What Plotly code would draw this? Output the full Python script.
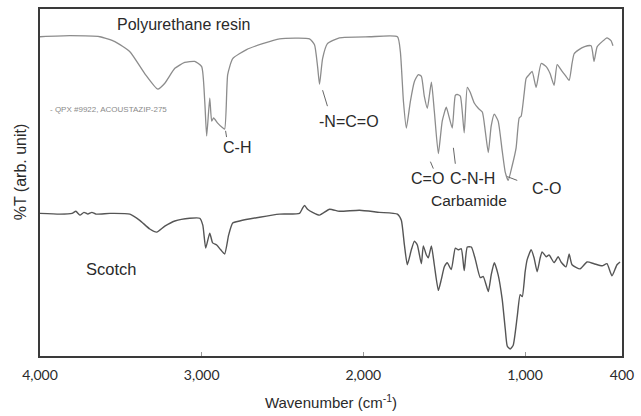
import plotly.graph_objects as go

# Polyurethane resin spectrum (wavenumber cm-1, %T arbitrary units)
pu_wn = [4000, 3815, 3630, 3537, 3444, 3352, 3271, 3228, 3166, 3105, 3043, 3000, 2981, 2969,
         2950, 2938, 2926, 2901, 2876, 2858, 2839, 2808, 2722, 2623, 2518, 2333, 2302, 2283,
         2271, 2252, 2222, 2148, 1962, 1789, 1771, 1752, 1734, 1709, 1684, 1660, 1641, 1623,
         1604, 1579, 1561, 1536, 1512, 1487, 1474, 1450, 1431, 1419, 1400, 1376, 1357, 1339,
         1314, 1289, 1264, 1246, 1227, 1209, 1190, 1166, 1141, 1122, 1104, 1079, 1055, 1036,
         1024, 1005, 993, 974, 956, 931, 900, 869, 845, 820, 801, 770, 746, 727, 709, 696,
         666, 635, 591, 573, 554, 523, 493, 468, 456]
pu_t = [92.0, 92.3, 92.0, 90.6, 87.7, 81.4, 76.9, 78.6, 82.9, 84.6, 84.9, 83.4, 73.4, 63.4,
        74.3, 67.7, 68.6, 67.1, 66.0, 65.4, 81.1, 85.7, 88.3, 90.0, 91.4, 91.4, 89.7, 83.4,
        78.3, 85.7, 90.0, 91.7, 92.0, 92.0, 87.7, 73.4, 65.7, 73.4, 79.1, 81.1, 80.6, 74.9,
        71.4, 78.9, 70.6, 58.3, 67.7, 71.7, 69.7, 65.7, 75.1, 75.4, 74.9, 64.3, 77.4, 76.0,
        72.9, 71.4, 70.3, 64.9, 58.6, 66.3, 69.7, 67.7, 59.1, 52.9, 50.6, 54.9, 60.0, 68.6,
        69.1, 75.7, 80.0, 81.1, 82.0, 77.4, 84.3, 83.4, 81.4, 78.0, 84.0, 82.0, 80.6, 79.4,
        84.3, 87.1, 88.3, 89.1, 89.4, 84.9, 89.1, 90.6, 91.7, 90.9, 89.4]

# Scotch spectrum
sc_wn = [4000, 3877, 3802, 3778, 3753, 3728, 3704, 3679, 3654, 3568, 3444, 3383, 3321, 3278,
         3228, 3166, 3074, 3012, 2993, 2975, 2950, 2932, 2907, 2882, 2858, 2833, 2808, 2765,
         2642, 2518, 2395, 2376, 2364, 2345, 2314, 2271, 2209, 2148, 2024, 1901, 1789, 1765,
         1746, 1728, 1703, 1684, 1666, 1641, 1629, 1610, 1598, 1579, 1561, 1536, 1518, 1499,
         1481, 1456, 1431, 1413, 1394, 1376, 1357, 1332, 1308, 1277, 1258, 1227, 1209, 1190,
         1166, 1141, 1122, 1110, 1092, 1073, 1048, 1030, 1017, 999, 987, 962, 944, 925, 906,
         894, 869, 851, 820, 795, 777, 746, 727, 709, 659, 616, 573, 523, 493, 462, 431, 412]
sc_t = [41.1, 40.9, 41.1, 41.7, 40.6, 41.4, 40.9, 41.4, 40.9, 41.1, 40.9, 39.1, 36.6, 35.7,
        37.4, 38.9, 39.7, 39.7, 37.7, 31.1, 35.4, 32.6, 32.0, 30.6, 29.4, 34.9, 38.3, 38.9,
        40.0, 40.9, 41.1, 42.6, 43.4, 42.3, 41.4, 40.6, 42.3, 41.7, 42.0, 41.4, 40.9, 39.1,
        32.0, 26.3, 30.6, 33.1, 32.0, 26.6, 31.7, 29.1, 28.3, 31.7, 26.3, 18.9, 22.0, 25.7,
        26.9, 24.9, 31.1, 30.6, 30.9, 24.6, 31.4, 31.4, 28.0, 22.6, 22.9, 18.6, 23.4, 26.9,
        23.4, 16.3, 7.7, 2.9, 2.0, 3.1, 11.4, 17.7, 17.1, 24.3, 27.7, 30.6, 28.3, 24.3, 28.3,
        30.0, 28.6, 29.1, 26.9, 28.6, 27.1, 25.7, 29.4, 26.3, 25.1, 27.1, 26.6, 26.0, 26.6,
        23.1, 26.3, 27.1]

tick_vals = [4000, 3000, 2000, 1000, 400]
tick_text = ["4,000", "3,000", "2,000", "1,000", "400"]

FONT = "Liberation Sans, Arial, sans-serif"
AXFONT = "Lato, Liberation Sans, sans-serif"
TXT = "#2a2a2a"

fig = go.Figure()
fig.add_trace(go.Scatter(x=pu_wn, y=pu_t, mode="lines",
                         line=dict(color="#8c8c8c", width=1.3, shape="spline", smoothing=0.5),
                         showlegend=False, hoverinfo="skip"))
fig.add_trace(go.Scatter(x=sc_wn, y=sc_t, mode="lines",
                         line=dict(color="#555555", width=1.4, shape="spline", smoothing=0.5),
                         showlegend=False, hoverinfo="skip"))

def label(x, y, text, size=16, color=TXT, xanchor="center"):
    fig.add_annotation(x=x, y=y, xref="x", yref="y", text=text, showarrow=False,
                       xanchor=xanchor, yanchor="middle",
                       font=dict(family=FONT, size=size, color=color))

label(3111, 95.4, "Polyurethane resin", size=16)
label(3951, 71.1, "- QPX #9922, ACOUSTAZIP-275", size=8, color="#8a8a8a", xanchor="left")
label(2784, 60.0, "C-H")
label(2086, 67.7, "-N=C=O")
label(1604, 51.1, "C=O")
label(1326, 51.1, "C-N-H")
label(1345, 44.9, "Carbamide", size=15.5)
label(869, 48.3, "C-O")
label(3562, 25.1, "Scotch", size=16.5)

# y-axis title placed as annotation (slightly above plot centre, as in reference)
fig.add_annotation(x=-0.034, y=0.53, xref="paper", yref="paper", text="%T (arb. unit)",
                   textangle=-90, showarrow=False, xanchor="center", yanchor="middle",
                   font=dict(family=FONT, size=16, color=TXT))

# leader lines for peak labels
leaders = [
    (2852, 64.9, 2846, 63.1),
    (2252, 76.6, 2222, 72.0),
    (1567, 54.0, 1585, 56.0),
    (1443, 60.0, 1431, 55.4),
    (1110, 51.7, 1048, 50.6),
]
for x0, y0, x1, y1 in leaders:
    fig.add_shape(type="line", xref="x", yref="y", x0=x0, y0=y0, x1=x1, y1=y1,
                  line=dict(color="#666666", width=1))

fig.update_layout(
    width=641, height=416,
    margin=dict(l=40, r=18, t=7, b=59),
    paper_bgcolor="white", plot_bgcolor="white",
    font=dict(family=FONT, color=TXT),
)
fig.update_xaxes(
    range=[4000, 400], tickvals=tick_vals, ticktext=tick_text,
    showgrid=False, zeroline=False,
    showline=True, linecolor="#3a3a3a", linewidth=1.5, mirror=True,
    ticks="inside", ticklen=4, tickcolor="#999999", tickwidth=1,
    ticklabelstandoff=5,
    tickfont=dict(family=AXFONT, size=14, color=TXT),
    title=dict(text="Wavenumber (cm<sup>-1</sup>)", standoff=16,
               font=dict(family=FONT, size=15, color=TXT)),
)
fig.update_yaxes(
    range=[0, 100], showticklabels=False, ticks="",
    showgrid=False, zeroline=False,
    showline=True, linecolor="#3a3a3a", linewidth=1.5, mirror=True,
)

fig.write_html("out.html")
